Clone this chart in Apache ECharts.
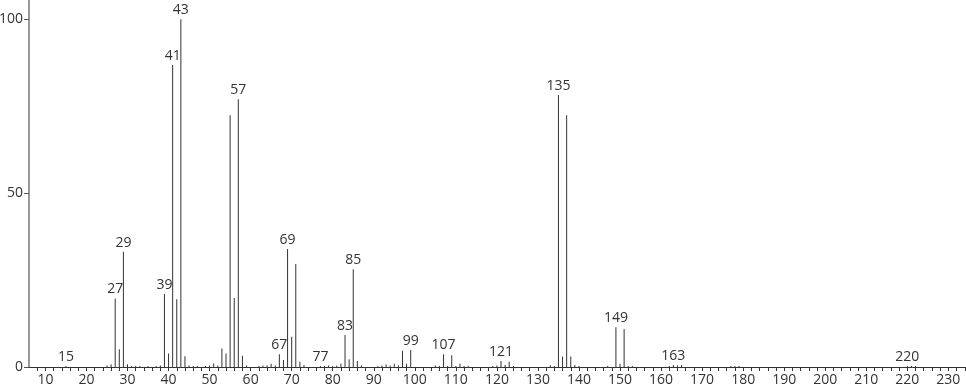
<!DOCTYPE html>
<html><head><meta charset="utf-8">
<script src="https://cdn.jsdelivr.net/npm/echarts@6/dist/echarts.min.js"></script>
<style>html,body{margin:0;padding:0;background:#fff}#c{width:966px;height:389px}</style>
</head><body><div id="c"></div>
<script>
const mzValues = [15,25,26,27,28,29,30,31,32,33,35,37,38,39,40,41,42,43,44,45,46,47,49,50,51,52,53,54,55,56,57,58,59,62,63,64,65,66,67,68,69,70,71,72,73,77,78,79,80,81,82,83,84,85,86,87,91,92,93,94,95,96,97,98,99,105,106,107,108,109,110,111,112,113,119,120,121,122,123,124,133,134,135,136,137,138,139,140,147,149,150,151,152,153,162,163,164,165,177,178,179,220,221,222];
const intensities = [0.3,0.4,0.8,19.7,5.1,33.1,0.8,0.3,0.3,0.3,0.3,0.3,0.4,21.0,3.9,86.8,19.5,100,3.1,0.4,0.3,0.3,0.3,0.4,1.0,0.4,5.3,3.9,72.4,19.8,77.0,3.2,0.4,0.3,0.4,0.4,0.9,0.4,3.7,2.0,33.9,8.7,29.6,1.5,0.6,0.3,0.3,0.4,0.3,0.4,0.9,9.2,2.2,28.1,1.7,0.4,0.3,0.4,0.7,0.4,0.9,0.5,4.7,0.9,4.9,0.4,0.3,3.7,0.3,3.4,0.3,0.9,0.3,0.3,0.3,0.4,1.7,0.6,1.5,0.3,0.5,0.3,78.2,3.0,72.4,3.0,0.6,0.3,0.3,11.4,0.9,10.9,0.3,0.3,0.3,0.6,0.4,0.6,0.3,0.3,0.3,0.3,0.3,0.3];
const labeledPeaks = [15,27,29,39,41,43,57,67,69,77,83,85,99,107,121,135,149,163,220];
const xTickLabels = [10,20,30,40,50,60,70,80,90,100,110,120,130,140,150,160,170,180,190,200,210,220,230];
const yTickLabels = [0,50,100];

const xTicks = [];
for (let v = 8; v <= 234; v += 2) xTicks.push(v);

const data = mzValues.map((m, i) => ({
  value: [m, intensities[i]],
  label: { show: labeledPeaks.includes(m) }
}));

const font = '"Open Sans", "DejaVu Sans", sans-serif';
const chart = echarts.init(document.getElementById('c'), null, {renderer: 'canvas'});
chart.setOption({
  animation: false,
  backgroundColor: '#fff',
  grid: { left: 29, right: 0, top: 0, bottom: 22, containLabel: false, outerBoundsMode: 'none' },
  xAxis: {
    type: 'value', min: 6, max: 234.3,
    axisLine: { show: true, lineStyle: { color: '#333', width: 1 } },
    axisTick: { show: true, customValues: xTicks, length: 4, lineStyle: { color: '#333' } },
    axisLabel: { customValues: xTickLabels, color: '#333', fontSize: 14, fontFamily: font, margin: 6 },
    splitLine: { show: false }
  },
  yAxis: {
    type: 'value', min: 0, max: 105.5,
    axisLine: { show: true, lineStyle: { color: '#999', width: 2 } },
    axisTick: { show: true, customValues: yTickLabels, length: 5, lineStyle: { color: '#555' } },
    axisLabel: { customValues: yTickLabels, color: '#333', fontSize: 14, fontFamily: font, margin: 6 },
    splitLine: { show: false }
  },
  series: [{
    type: 'bar',
    barWidth: 1,
    data: data,
    itemStyle: { color: '#333' },
    label: {
      position: 'top', distance: 2, color: '#333', fontSize: 14, fontFamily: font,
      formatter: p => String(p.value[0])
    }
  }]
});
</script></body></html>
